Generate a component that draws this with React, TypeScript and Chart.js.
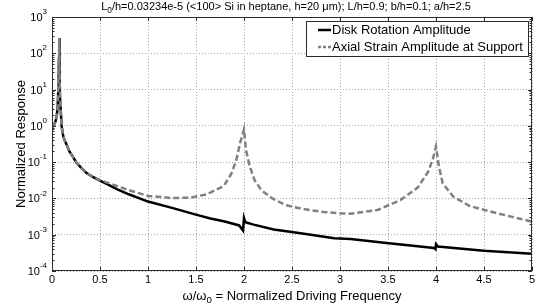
import React, { useEffect, useRef } from "react";
import { Chart, registerables } from "chart.js";

Chart.register(...registerables);

// ---- data ----
const diskFreq = [
  0, 0.02, 0.035, 0.049, 0.059, 0.066, 0.07, 0.073, 0.075, 0.077, 0.08, 0.083, 0.09, 0.1,
  0.118, 0.135, 0.153, 0.18, 0.22, 0.257, 0.3, 0.36, 0.42, 0.5, 0.6, 0.675, 0.8, 1.0, 1.26,
  1.48, 1.65, 1.8, 1.95, 1.99, 2.0, 2.015, 2.1, 2.31, 2.59, 2.94, 3.11, 3.46, 3.98, 3.995,
  4.0, 4.02, 4.5, 5.0,
];
const diskAmp = [
  0.93, 1.05, 1.3, 1.8, 3.4, 9.8, 25, 80, 263, 60, 20, 9.8, 3, 1.0,
  0.5, 0.38, 0.3, 0.2, 0.138, 0.095, 0.072, 0.05, 0.04, 0.031, 0.023, 0.018, 0.013, 0.0082, 0.0054,
  0.0037, 0.0028, 0.0023, 0.0018, 0.0013, 0.0029, 0.0022, 0.0019, 0.0014, 0.0011, 0.0008, 0.00076, 0.0006, 0.00043, 0.0004,
  0.00055, 0.00047, 0.00036, 0.0003,
];

const axialFreq = [
  0, 0.02, 0.035, 0.049, 0.059, 0.066, 0.07, 0.073, 0.075, 0.077, 0.08, 0.083, 0.09, 0.1,
  0.118, 0.135, 0.153, 0.18, 0.22, 0.257, 0.3, 0.36, 0.42, 0.5, 0.6, 0.675, 0.8, 1.0, 1.26,
  1.44, 1.61, 1.79, 1.87, 1.92, 1.96, 2.0, 2.02, 2.06, 2.11, 2.18, 2.29, 2.43, 2.6, 2.83,
  3.0, 3.11, 3.39, 3.63, 3.81, 3.92, 3.97, 4.0, 4.03, 4.07, 4.18, 4.35, 4.56, 4.77, 5.0,
];
const axialAmp = [
  0.93, 1.05, 1.3, 1.8, 3.4, 9.8, 25, 80, 263, 60, 20, 9.8, 3, 1.0,
  0.5, 0.38, 0.3, 0.2, 0.138, 0.095, 0.072, 0.05, 0.04, 0.032, 0.026, 0.022, 0.017, 0.0117, 0.0102,
  0.0105, 0.013, 0.022, 0.049, 0.115, 0.34, 0.81, 0.22, 0.076, 0.032, 0.017, 0.0102, 0.0066, 0.0052, 0.0042,
  0.0039, 0.0038, 0.0048, 0.009, 0.02, 0.055, 0.13, 0.27, 0.076, 0.026, 0.0112, 0.0062, 0.0044, 0.0032, 0.0023,
];

const xTickValues = [0, 0.5, 1, 1.5, 2, 2.5, 3, 3.5, 4, 4.5, 5];
const xTickLabels = ["0", "0.5", "1", "1.5", "2", "2.5", "3", "3.5", "4", "4.5", "5"];
const yDecadeExponents = [-4, -3, -2, -1, 0, 1, 2, 3];
const yTickBase = "10";
const minorMultipliers = [2, 3, 4, 5, 6, 7, 8, 9];

const titleParts = ["L", "0", "/h=0.03234e-5 (<100> Si in heptane, h=20 \u03bcm); L/h=0.9; b/h=0.1; a/h=2.5"];
const xTitleParts = ["\u03c9/\u03c9", "0", " = Normalized Driving Frequency"];
const yTitle = "Normalized Response";
const legendLabels = ["Disk Rotation Amplitude", "Axial Strain Amplitude at Support"];

const FONT = '"Liberation Sans", Arial, Helvetica, sans-serif';
const AXIS_COLOR = "#2b2b2b";
const GRID_COLOR = "#a8a8a8";
const DISK_COLOR = "#000000";
const AXIAL_COLOR = "#808080";

function drawSubText(ctx: CanvasRenderingContext2D, parts: string[], cx: number, cy: number, size: number) {
  const subSize = size * 0.75;
  ctx.font = `${size}px ${FONT}`;
  const w0 = ctx.measureText(parts[0]).width;
  const w2 = ctx.measureText(parts[2]).width;
  ctx.font = `${subSize}px ${FONT}`;
  const w1 = ctx.measureText(parts[1]).width;
  const total = w0 + w1 + w2;
  let x = cx - total / 2;
  ctx.textAlign = "left";
  ctx.textBaseline = "middle";
  ctx.font = `${size}px ${FONT}`;
  ctx.fillText(parts[0], x, cy);
  x += w0;
  ctx.font = `${subSize}px ${FONT}`;
  ctx.fillText(parts[1], x, cy + size * 0.35);
  x += w1;
  ctx.font = `${size}px ${FONT}`;
  ctx.fillText(parts[2], x, cy);
}

const decorPlugin = {
  id: "matlabDecor",
  afterDraw(chart: any) {
    const { ctx, chartArea: a, scales } = chart;
    const xs = scales.x;
    const ys = scales.y;
    ctx.save();

    // axes box
    ctx.setLineDash([]);
    ctx.strokeStyle = AXIS_COLOR;
    ctx.lineWidth = 1;
    ctx.strokeRect(a.left + 0.5, a.top + 0.5, a.right - a.left - 1, a.bottom - a.top - 1);

    // inside ticks
    ctx.beginPath();
    xTickValues.forEach((v) => {
      const px = Math.round(xs.getPixelForValue(v)) + 0.5;
      ctx.moveTo(px, a.bottom);
      ctx.lineTo(px, a.bottom - 4);
      ctx.moveTo(px, a.top);
      ctx.lineTo(px, a.top + 4);
    });
    yDecadeExponents.forEach((e) => {
      const py = Math.round(ys.getPixelForValue(Math.pow(10, e))) + 0.5;
      ctx.moveTo(a.left, py);
      ctx.lineTo(a.left + 4, py);
      ctx.moveTo(a.right, py);
      ctx.lineTo(a.right - 4, py);
    });
    yDecadeExponents.slice(0, -1).forEach((e) => {
      minorMultipliers.forEach((m) => {
        const py = Math.round(ys.getPixelForValue(m * Math.pow(10, e))) + 0.5;
        ctx.moveTo(a.left, py);
        ctx.lineTo(a.left + 2.5, py);
        ctx.moveTo(a.right, py);
        ctx.lineTo(a.right - 2.5, py);
      });
    });
    ctx.stroke();

    ctx.fillStyle = "#000";
    // x tick labels
    ctx.font = `11px ${FONT}`;
    ctx.textAlign = "center";
    ctx.textBaseline = "middle";
    xTickValues.forEach((v, i) => {
      ctx.fillText(xTickLabels[i], xs.getPixelForValue(v), a.bottom + 8.5);
    });

    // y tick labels 10^n
    yDecadeExponents.forEach((e) => {
      const py = ys.getPixelForValue(Math.pow(10, e));
      const exp = String(e);
      ctx.textAlign = "right";
      ctx.font = `8px ${FONT}`;
      const ew = ctx.measureText(exp).width;
      ctx.fillText(exp, a.left - 5, py - 5);
      ctx.font = `11px ${FONT}`;
      ctx.fillText(yTickBase, a.left - 5 - ew, py + 1);
    });

    // title
    drawSubText(ctx, titleParts, (a.left + a.right) / 2 - 6, 7, 11);
    // x title
    drawSubText(ctx, xTitleParts, (a.left + a.right) / 2, a.bottom + 25, 13);
    // y title
    ctx.save();
    ctx.translate(21, (a.top + a.bottom) / 2);
    ctx.rotate(-Math.PI / 2);
    ctx.font = `13px ${FONT}`;
    ctx.textAlign = "center";
    ctx.textBaseline = "middle";
    ctx.fillText(yTitle, 0, 0);
    ctx.restore();

    // legend
    const bx = a.right - 226;
    const by = a.top + 4;
    const bw = 223;
    const bh = 36;
    ctx.fillStyle = "#fff";
    ctx.fillRect(bx, by, bw, bh);
    ctx.strokeStyle = AXIS_COLOR;
    ctx.lineWidth = 1;
    ctx.strokeRect(bx + 0.5, by + 0.5, bw - 1, bh - 1);
    const rows = [by + 9, by + 26];
    ctx.lineWidth = 2.5;
    ctx.strokeStyle = DISK_COLOR;
    ctx.beginPath();
    ctx.moveTo(bx + 12, rows[0]);
    ctx.lineTo(bx + 25, rows[0]);
    ctx.stroke();
    ctx.strokeStyle = AXIAL_COLOR;
    ctx.setLineDash([3, 2]);
    ctx.beginPath();
    ctx.moveTo(bx + 12, rows[1]);
    ctx.lineTo(bx + 25, rows[1]);
    ctx.stroke();
    ctx.setLineDash([]);
    ctx.fillStyle = "#000";
    ctx.font = `13px ${FONT}`;
    ctx.textAlign = "left";
    ctx.textBaseline = "middle";
    ctx.fillText(legendLabels[0], bx + 26, rows[0] + 0.5);
    ctx.fillText(legendLabels[1], bx + 26, rows[1] + 0.5);

    ctx.restore();
  },
};

export default function App() {
  const canvasRef = useRef<HTMLCanvasElement | null>(null);

  useEffect(() => {
    const canvas = canvasRef.current;
    if (!canvas) return;
    const chart = new Chart(canvas, {
      type: "line",
      data: {
        datasets: [
          {
            label: legendLabels[0],
            data: diskFreq.map((x, i) => ({ x, y: diskAmp[i] })),
            borderColor: DISK_COLOR,
            borderWidth: 2.5,
            pointRadius: 0,
            tension: 0,
            fill: false,
            order: 1,
          },
          {
            label: legendLabels[1],
            data: axialFreq.map((x, i) => ({ x, y: axialAmp[i] })),
            borderColor: AXIAL_COLOR,
            borderWidth: 2.5,
            borderDash: [6, 3],
            pointRadius: 0,
            tension: 0,
            fill: false,
            order: 0,
          },
        ],
      },
      options: {
        animation: false,
        responsive: false,
        events: [],
        layout: { padding: { left: 0, right: 9, top: 17, bottom: 0 } },
        plugins: {
          legend: { display: false },
          tooltip: { enabled: false },
          title: { display: false },
        },
        scales: {
          x: {
            type: "linear",
            min: 0,
            max: 5,
            ticks: { display: false, stepSize: 0.5 },
            grid: { color: GRID_COLOR, lineWidth: 1, drawTicks: false },
            border: { display: false, dash: [1, 2] },
            afterFit: (s: any) => {
              s.height = 37;
            },
          },
          y: {
            type: "logarithmic",
            min: 1e-4,
            max: 1e3,
            ticks: { display: false },
            afterBuildTicks: (s: any) => {
              s.ticks = yDecadeExponents.map((e) => ({ value: Math.pow(10, e) }));
            },
            grid: { color: GRID_COLOR, lineWidth: 1, drawTicks: false },
            border: { display: false, dash: [1, 2] },
            afterFit: (s: any) => {
              s.width = 52;
            },
          },
        },
      } as any,
      plugins: [decorPlugin],
    });
    return () => chart.destroy();
  }, []);

  return (
    <div style={{ position: "absolute", left: 0, top: 0, width: 541, height: 308, background: "#fff" }}>
      <canvas ref={canvasRef} width={541} height={308} style={{ display: "block", width: 541, height: 308 }} />
    </div>
  );
}
